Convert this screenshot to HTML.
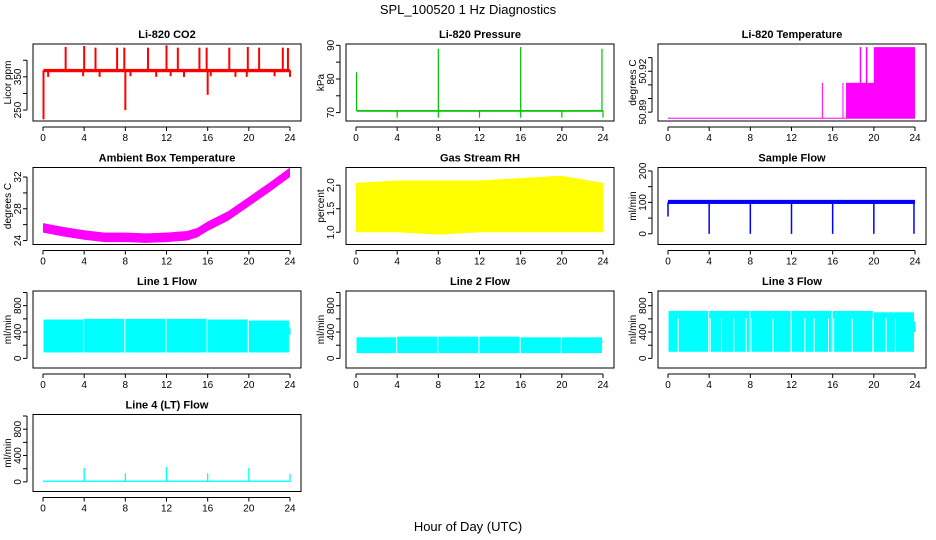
<!DOCTYPE html>
<html><head><meta charset="utf-8"><style>
body{margin:0;background:#fff}
svg{display:block;font-family:"Liberation Sans",sans-serif}
</style></head><body>
<svg id="c" width="936" height="540" viewBox="0 0 936 540">
<text x="468" y="14" text-anchor="middle" font-size="13">SPL_100520  1 Hz Diagnostics</text>
<text x="468" y="531" text-anchor="middle" font-size="13">Hour of Day (UTC)</text>
</svg>
<script>
// ---- data ----
const xTicks=[0,4,8,12,16,20,24];
const co2Base=370;
const co2SpikeHours=[2.2,4,5.1,7.2,7.9,10.2,12,13.1,15.2,15.9,18.1,19.9,21,23.3,23.8,0.05,8,16,0.5,3.9,5.5,8.5,11,12.4,13.7,16.3,18.7,19.8,22.5,24];
const co2SpikeVals=[440,443,438,438,438,438,445,438,438,438,438,440,438,438,437,222,250,296,350,352,350,352,350,352,350,352,350,350,352,350];
const presBase=70.5;
const presSpikeHours=[0.05,8,16,23.9,4,8,12,16,20,24];
const presSpikeVals=[82,89,89.5,89,68.5,68.5,68.5,68.5,68.5,68.5];
const tempBase=50.8857;
const tempStepHours=[15,17,17.3,20];
const tempStepVals=[50.9115,50.9115,50.9115,50.9377];
const ambHours=[0,2,4,6,8,10,12,14,15,16,18,20,22,24];
const ambVals=[25.6,25.1,24.7,24.4,24.4,24.3,24.4,24.6,25,25.8,27.1,28.9,30.7,32.6];
const rhHours=[0,4,8,12,16,20,24];
const rhHigh=[2.05,2.1,2.1,2.1,2.15,2.2,2.05];
const rhLow=[1.0,1.0,0.95,1.0,1.0,1.0,1.0];
const sfBase=[95,108];
const sfDipHours=[4,8,12,16,20,23.9];
const sfDipVals=[0,0,0,0,0,0];
const flowGapHours=[4,8,12,16,20];
const flow1High=[590,600,600,600,590,575];
const flow1Low=90;
const flow2High=[320,330,330,330,320,320];
const flow2Low=80;
const flow3High=[720,720,720,720,720,700];
const flow3Low=100;
const flow3Lines=[1,4.1,5.2,6.4,7.6,8.1,10.2,12,13.3,14.2,15.6,16.1,17.9,19.9,21.2,22.1];
const flow4Base=[0,20];
const flow4SpikeHours=[4,8,12,16,20,24];
const flow4SpikeVals=[210,130,225,130,210,120];

// ---- layout ----
const svg=document.getElementById('c');
const NS='http://www.w3.org/2000/svg';
const colL=[33,346,658], rowT=[44,167.5,291,414.5], W=268, H=77;
function mk(tag,attrs,parent){const e=document.createElementNS(NS,tag);for(const k in attrs)e.setAttribute(k,attrs[k]);(parent||svg).appendChild(e);return e;}
function panel(ci,ri,title,ylab,ymin,ymax,ticks,labels,name){
  const L=colL[ci],T=rowT[ri];
  const g=mk('g',{});
  
  
  const sx=h=>L+10+h*(247/24);
  const sy=v=>T+H-(v-ymin)/(ymax-ymin)*H;
  const plot=mk('g',{},g);
  
  
  const box=mk('rect',{x:L,y:T,width:W,height:H,fill:'none',stroke:'#000','stroke-width':1},g);
  
  
  const t=mk('text',{x:L+W/2,y:T-6,'text-anchor':'middle','font-size':11,'font-weight':'bold'},g);t.textContent=title;
  
  
  const xa=mk('g',{},g);
  
  
  mk('line',{x1:sx(0),x2:sx(24),y1:T+H+6,y2:T+H+6,stroke:'#000'},xa);
  xTicks.forEach(h=>{mk('line',{x1:sx(h),x2:sx(h),y1:T+H+6,y2:T+H+10,stroke:'#000'},xa);
    const l=mk('text',{x:sx(h),y:T+H+20,'text-anchor':'middle','font-size':10},xa);l.textContent=h;});
  const ya=mk('g',{},g);
  
  
  mk('line',{x1:L-6,x2:L-6,y1:sy(ticks[0]),y2:sy(ticks[ticks.length-1]),stroke:'#000'},ya);
  ticks.forEach((v,i)=>{mk('line',{x1:L-10,x2:L-6,y1:sy(v),y2:sy(v),stroke:'#000'},ya);
    if(labels[i]){const l=mk('text',{x:0,y:0,'text-anchor':'middle','font-size':10,transform:`translate(${L-12},${sy(v)}) rotate(-90)`},ya);l.textContent=labels[i];}});
  const yl=mk('text',{x:0,y:0,'text-anchor':'middle','font-size':10,transform:`translate(${L-22},${T+H/2}) rotate(-90)`},g);yl.textContent=ylab;
  
  
  return {sx,sy,g:plot};
}
function seg(p,h,v1,v2,col,w){mk('line',{x1:p.sx(h),x2:p.sx(h),y1:p.sy(v1),y2:p.sy(v2),stroke:col,'stroke-width':w||1.3},p.g);}
function hband(p,h1,h2,v1,v2,col){mk('rect',{x:p.sx(h1),y:p.sy(v2),width:p.sx(h2)-p.sx(h1),height:Math.max(1,p.sy(v1)-p.sy(v2)),fill:col},p.g);}
function poly(p,hs,lo,hi,col){let pts=hs.map((h,i)=>p.sx(h)+','+p.sy(hi[i]));pts=pts.concat(hs.slice().reverse().map((h,i)=>p.sx(h)+','+p.sy(lo[hs.length-1-i])));mk('polygon',{points:pts.join(' '),fill:col},p.g);}

// CO2
let p=panel(0,0,'Li-820 CO2','Licor ppm',217,449,[250,300,350,400],['250','','350',''],'co2');
hband(p,0.05,24,co2Base-6,co2Base+4,'#ff0000');
co2SpikeHours.forEach((h,i)=>seg(p,h,co2Base,co2SpikeVals[i],'#ff0000',2));
// Pressure
p=panel(1,0,'Li-820 Pressure','kPa',67.5,90.4,[70,75,80,85,90],['70','','80','','90'],'pressure');
hband(p,0.05,24,presBase-0.25,presBase+0.25,'#00c000');
presSpikeHours.forEach((h,i)=>seg(p,h,presBase,presSpikeVals[i],'#00c000',1.2));
// Temperature
p=panel(2,0,'Li-820 Temperature','degrees C',50.8835,50.940,[50.89,50.90,50.91,50.92,50.93],['50.89','','','50.92',''],'li820-temp');
hband(p,0,24,tempBase-0.0002,tempBase+0.0002,'#ff00ff');
seg(p,tempStepHours[0],tempBase,tempStepVals[0],'#ff00ff',1);
seg(p,tempStepHours[1],tempBase,tempStepVals[1],'#ff00ff',1);
hband(p,tempStepHours[2],24,tempBase,tempStepVals[2],'#ff00ff');
hband(p,tempStepHours[3],24,tempBase,tempStepVals[3],'#ff00ff');
seg(p,18.7,tempBase,tempStepVals[3],'#ff00ff',1.5);
seg(p,19.3,tempBase,tempStepVals[3],'#ff00ff',1.5);
// Ambient
p=panel(0,1,'Ambient Box Temperature','degrees C',23.5,33.2,[24,26,28,30,32],['24','','28','','32'],'ambient-temp');
poly(p,ambHours,ambVals.map(v=>v-0.6),ambVals.map(v=>v+0.6),'#ff00ff');
// RH
p=panel(1,1,'Gas Stream RH','percent',0.74,2.376,[1.0,1.5,2.0],['1.0','1.5','2.0'],'rh');
poly(p,rhHours,rhLow,rhHigh,'#ffff00');
// Sample flow
p=panel(2,1,'Sample Flow','ml/min',-34,211,[0,50,100,150,200],['0','','100','','200'],'sample-flow');
hband(p,0,24,sfBase[0],sfBase[1],'#0000ff');
seg(p,0,55,100,'#0000ff',1.5);
sfDipHours.forEach((h,i)=>seg(p,h,sfBase[0],sfDipVals[i],'#0000ff',1.5));
// Line flows
const fT=[0,200,400,600,800,1000],fL=['0','','400','','800',''];
function flowPanel(ci,ri,title,name,highs,low){
  const q=panel(ci,ri,title,'ml/min',-146,1023,fT,fL,name);
  const starts=[0.05].concat(flowGapHours), ends=flowGapHours.map(h=>h-0.1).concat([23.9]);
  starts.forEach((s,i)=>hband(q,s,ends[i],low,highs[i],'#00ffff'));
  hband(q,23.9,24.05,low*4,highs[5]*0.8,'#00ffff');
  return q;
}
flowPanel(0,2,'Line 1 Flow','line1-flow',flow1High,flow1Low);
flowPanel(1,2,'Line 2 Flow','line2-flow',flow2High,flow2Low);
p=flowPanel(2,2,'Line 3 Flow','line3-flow',flow3High,flow3Low);
flow3Lines.forEach(h=>seg(p,h,flow3Low,610,'#ffffff',1));
p=panel(0,3,'Line 4 (LT) Flow','ml/min',-146,1023,fT,fL,'line4-flow');
hband(p,0,24,flow4Base[0],flow4Base[1],'#00ffff');
flow4SpikeHours.forEach((h,i)=>seg(p,h,0,flow4SpikeVals[i],'#00ffff',1.3));
</script>
</body></html>
